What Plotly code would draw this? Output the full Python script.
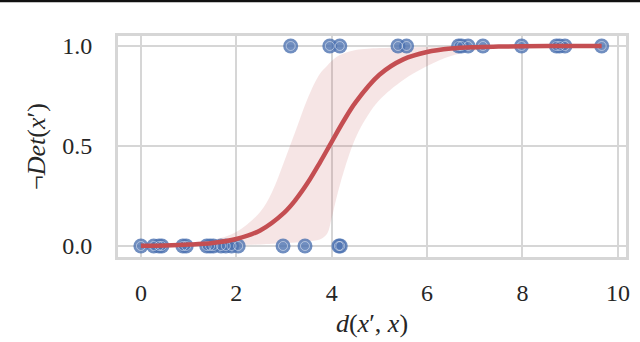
import plotly.graph_objects as go

# observations (distance, detected-negated)
pos_x = [3.14, 3.96, 4.17, 5.39, 5.57, 6.66, 6.72, 6.86, 7.17, 7.98, 8.71, 8.78, 8.89, 9.66]
pos_y = [1.0] * len(pos_x)
neg_x = [0.0, 0.27, 0.38, 0.44, 0.88, 0.95, 1.38, 1.45, 1.52, 1.68, 1.78, 1.9, 2.04, 2.98, 3.44, 4.15, 4.18]
neg_y = [0.0] * len(neg_x)

# fitted logistic curve
fit_x = [0.0, 0.5, 1.0, 1.5, 2.0, 2.5, 3.0, 3.25, 3.5, 3.75, 4.0, 4.25, 4.5, 5.0, 5.5, 6.0, 6.5, 7.0, 7.5, 8.0, 9.0, 9.66]
fit_y = [0.001, 0.003, 0.007, 0.015, 0.035, 0.078, 0.166, 0.233, 0.317, 0.416, 0.521, 0.625, 0.718, 0.856, 0.933,
         0.97, 0.987, 0.994, 0.997, 0.999, 1.0, 1.0]

# 95% confidence band
band_x = [0.0, 0.5, 1.0, 1.5, 2.0, 2.5, 2.75, 3.0, 3.25, 3.5, 3.75, 3.9, 4.0, 4.1, 4.25, 4.5, 4.75, 5.0, 5.5,
          6.0, 6.5, 7.0, 7.5, 8.0, 9.0, 9.66]
ci_hi = [0.008, 0.012, 0.018, 0.03, 0.07, 0.17, 0.27, 0.42, 0.58, 0.74, 0.86, 0.9, 0.925, 0.945, 0.962, 0.98,
         0.986, 0.99, 0.993, 0.995, 0.997, 0.998, 0.999, 1.0, 1.0, 1.0]
ci_lo = [0.0, 0.0, 0.001, 0.002, 0.004, 0.008, 0.011, 0.015, 0.018, 0.022, 0.032, 0.06, 0.14, 0.24, 0.37, 0.54,
         0.65, 0.73, 0.83, 0.9, 0.95, 0.978, 0.99, 0.995, 1.0, 1.0]

blue = "#4C72B0"
red = "#C44E52"
grid = "#d6d6d6"
font = "Liberation Serif"

fig = go.Figure()

# confidence band
fig.add_trace(go.Scatter(x=band_x, y=ci_lo, mode="lines", line=dict(width=0, shape="spline"),
                         hoverinfo="skip", showlegend=False))
fig.add_trace(go.Scatter(x=band_x, y=ci_hi, mode="lines", line=dict(width=0, shape="spline"),
                         fill="tonexty", fillcolor="rgba(196,78,82,0.15)", showlegend=False))

# scatter points (filled disk + faint inner ring)
all_x = neg_x + pos_x
all_y = neg_y + pos_y
fig.add_trace(go.Scatter(x=all_x, y=all_y, mode="markers",
                         marker=dict(size=15, color="rgba(76,114,176,0.8)", line=dict(width=0)),
                         showlegend=False))
fig.add_trace(go.Scatter(x=all_x, y=all_y, mode="markers",
                         marker=dict(size=9, symbol="circle-open", color="rgba(255,255,255,0.45)",
                                     line=dict(width=1)),
                         showlegend=False))

# fitted curve
fig.add_trace(go.Scatter(x=fit_x, y=fit_y, mode="lines", line=dict(color=red, width=4.5, shape="spline"),
                         showlegend=False))

fig.update_layout(
    width=640, height=342,
    margin=dict(l=118, r=14, t=36, b=85),
    paper_bgcolor="white", plot_bgcolor="white",
    font=dict(family=font, size=24, color="#262626"),
    xaxis=dict(range=[-0.48, 10.17], tickvals=[0, 2, 4, 6, 8, 10], showgrid=True, gridcolor=grid, gridwidth=2,
               zeroline=False, showline=True, mirror=True, linecolor=grid, linewidth=3,
               ticks="", ticklabelstandoff=12, automargin=False,
               title=dict(text="<i>d</i>(<i>x</i>′, <i>x</i>)", standoff=10, font=dict(size=26))),
    yaxis=dict(range=[-0.055, 1.05], tickvals=[0, 0.5, 1.0], ticktext=["0.0", "0.5", "1.0"],
               showgrid=True, gridcolor=grid, gridwidth=2,
               zeroline=False, showline=True, mirror=True, linecolor=grid, linewidth=3,
               ticks="", ticklabelstandoff=18, automargin=False,
               title=dict(text="¬<i>Det</i>(<i>x</i>′)", standoff=10, font=dict(size=26))),
    shapes=[dict(type="line", xref="paper", yref="paper", x0=-0.24, x1=1.03, y0=1.16, y1=1.16,
                 line=dict(color="#111111", width=3))],
)

fig.write_html("out.html", config={"displayModeBar": False},
               post_script="document.body.style.margin='0';")
